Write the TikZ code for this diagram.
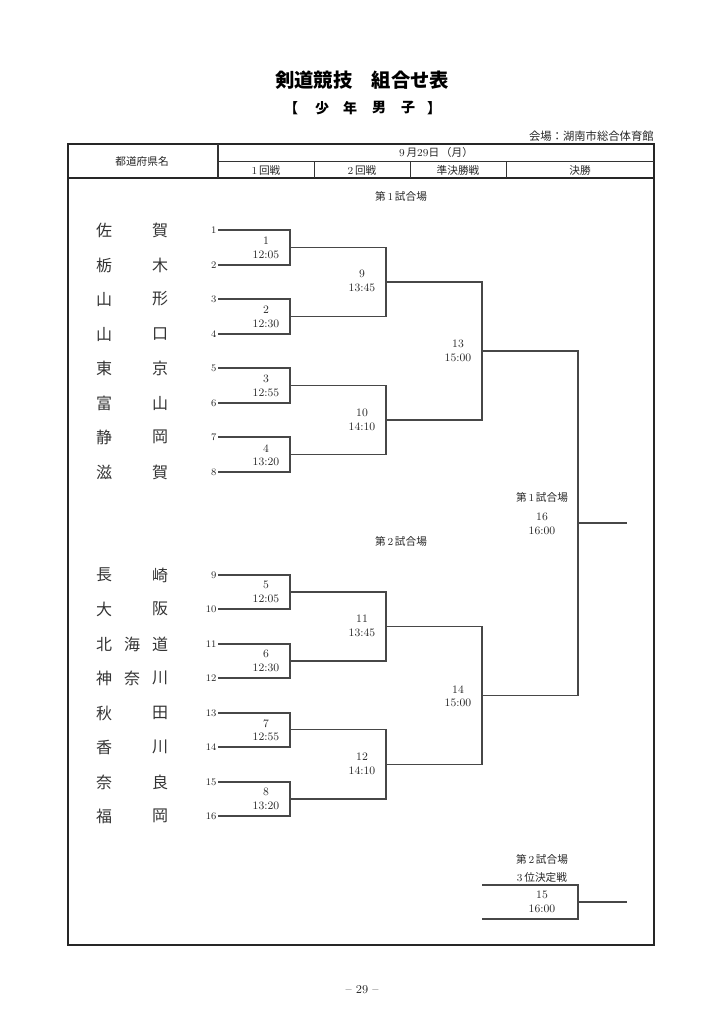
\documentclass[tikz,border=0pt]{standalone}
\usepackage{fontspec}
\newfontfamily\jp{Noto Sans CJK JP}
\begin{document}
\begin{tikzpicture}[x=0.75pt,y=-0.75pt,
  brk/.style={draw=black!72,line width=0.85pt},
  frm/.style={draw=black!85,line width=1.5pt},
  thin/.style={draw=black!80,line width=0.6pt},
  pname/.style={font=\jp\fontsize{12}{12}\selectfont,inner sep=0pt,text=black!80},
  seed/.style={font=\fontsize{7.5}{7.5}\selectfont,anchor=east,inner sep=1pt,text=black!85},
  match/.style={font=\fontsize{8.5}{10}\selectfont,align=center,inner sep=0pt,text=black!85},
  hdr/.style={font=\jp\fontsize{8}{8}\selectfont,inner sep=0pt,text=black!85},
  ttl/.style={font=\jp\bfseries\fontsize{14.5}{14.5}\selectfont,inner sep=0pt},
  sub/.style={font=\jp\bfseries\fontsize{10.5}{10.5}\selectfont,inner sep=0pt}]
\useasboundingbox (0,0) rectangle (724,1024);
% titles
\node[ttl] (title) at (362,80) {剣道競技\hspace{1em}組合せ表};
\node[sub] (b1) at (291,108) {【};
\node[sub] (b2) at (322,108) {少};
\node[sub] (b3) at (350,108) {年};
\node[sub] (b4) at (379,108) {男};
\node[sub] (b5) at (408,108) {子};
\node[sub] (b6) at (434,108) {】};
\node[hdr,anchor=east,font=\jp\fontsize{8.5}{8.5}\selectfont] (venue) at (654,136) {会場：湖南市総合体育館};
% frame and header
\draw[frm] (68,144) rectangle (654,945);
\draw[frm,line width=1.2pt] (68,178) -- (654,178);
\draw[thin,line width=0.9pt] (218,144) -- (218,178);
\draw[thin] (218,161) -- (654,161);
\draw[thin] (314,161) -- (314,178);
\draw[thin] (410,161) -- (410,178);
\draw[thin] (506,161) -- (506,178);
\node[hdr] (h0) at (142,161) {都道府県名};
\node[hdr] (hd) at (436,152.5) {{\rmfamily 9}\,月{\rmfamily 29}日\,（月）};
\node[hdr] (h1) at (266,170) {{\rmfamily 1}\,回戦};
\node[hdr] (h2) at (362,170) {{\rmfamily 2}\,回戦};
\node[hdr] (h3) at (458,170) {準決勝戦};
\node[hdr] (h4) at (580,170) {決勝};
% venue labels
\node[hdr] (v1) at (401,196) {第\,{\rmfamily 1}\,試合場};
\node[hdr] (v2) at (401,541) {第\,{\rmfamily 2}\,試合場};
% names
\node[pname] (p1a) at (104,230) {佐}; \node[pname] (p1b) at (160,230) {賀};
\node[pname] (p2a) at (104,265) {栃}; \node[pname] (p2b) at (160,265) {木};
\node[pname] (p3a) at (104,299) {山}; \node[pname] (p3b) at (160,299) {形};
\node[pname] (p4a) at (104,334) {山}; \node[pname] (p4b) at (160,334) {口};
\node[pname] (p5a) at (104,368) {東}; \node[pname] (p5b) at (160,368) {京};
\node[pname] (p6a) at (104,403) {富}; \node[pname] (p6b) at (160,403) {山};
\node[pname] (p7a) at (104,437) {静}; \node[pname] (p7b) at (160,437) {岡};
\node[pname] (p8a) at (104,472) {滋}; \node[pname] (p8b) at (160,472) {賀};
\node[pname] (p9a) at (104,575) {長}; \node[pname] (p9b) at (160,575) {崎};
\node[pname] (p10a) at (104,609) {大}; \node[pname] (p10b) at (160,609) {阪};
\node[pname] (p11a) at (104,644) {北}; \node[pname] (p11c) at (132,644) {海}; \node[pname] (p11b) at (160,644) {道};
\node[pname] (p12a) at (104,678) {神}; \node[pname] (p12c) at (132,678) {奈}; \node[pname] (p12b) at (160,678) {川};
\node[pname] (p13a) at (104,713) {秋}; \node[pname] (p13b) at (160,713) {田};
\node[pname] (p14a) at (104,747) {香}; \node[pname] (p14b) at (160,747) {川};
\node[pname] (p15a) at (104,782) {奈}; \node[pname] (p15b) at (160,782) {良};
\node[pname] (p16a) at (104,816) {福}; \node[pname] (p16b) at (160,816) {岡};
% seeds
\foreach \i/\y in {1/230,2/265,3/299,4/334,5/368,6/403,7/437,8/472,9/575,10/609,11/644,12/678,13/713,14/747,15/782,16/816}{
  \coordinate (s\i) at (218,\y);
  \coordinate (e\i) at (290,\y);
  \node[seed] (n\i) at (s\i) {\i};
}
% round columns
\coordinate (c1) at (290,0);
\coordinate (c2) at (386,0);
\coordinate (c3) at (482,0);
\coordinate (c4) at (578,0);
% first round
\foreach \m/\a/\b/\y in {1/1/2/247.5,2/3/4/316.5,3/5/6/385.5,4/7/8/454.5,5/9/10/592,6/11/12/661,7/13/14/729.5,8/15/16/799}{
  \draw[brk] (s\a) -- (e\a) -- (e\b) -- (s\b);
  \coordinate (m\m) at (290,\y);
}
\node[match] (l1) at (266,248) {1\\12:05};
\node[match] (l2) at (266,317) {2\\12:30};
\node[match] (l3) at (266,386) {3\\12:55};
\node[match] (l4) at (266,455) {4\\13:20};
\node[match] (l5) at (266,592) {5\\12:05};
\node[match] (l6) at (266,661) {6\\12:30};
\node[match] (l7) at (266,730) {7\\12:55};
\node[match] (l8) at (266,799) {8\\13:20};
% second round
\foreach \m/\a/\b/\y in {9/1/2/282,10/3/4/420,11/5/6/626.5,12/7/8/764.5}{
  \draw[brk] (m\a) -- (m\a -| c2) -- (m\b -| c2) -- (m\b);
  \coordinate (m\m) at (386,\y);
}
\node[match] (l9) at (362,281) {9\\13:45};
\node[match] (l10) at (362,420) {10\\14:10};
\node[match] (l11) at (362,626) {11\\13:45};
\node[match] (l12) at (362,764) {12\\14:10};
% semifinal
\foreach \m/\a/\b/\y in {13/9/10/351,14/11/12/695.5}{
  \draw[brk] (m\a) -- (m\a -| c3) -- (m\b -| c3) -- (m\b);
  \coordinate (m\m) at (482,\y);
}
\node[match] (l13) at (458,351) {13\\15:00};
\node[match] (l14) at (458,696) {14\\15:00};
% final
\draw[brk] (m13) -- (m13 -| c4) -- (m14 -| c4) -- (m14);
\coordinate (m16) at (578,523);
\coordinate (w16) at (627,523);
\draw[brk] (m16) -- (w16);
\node[hdr] (v3) at (542,497) {第\,{\rmfamily 1}\,試合場};
\node[match] (l16) at (542,524) {16\\16:00};
% third place
\node[hdr] (v4) at (542,859) {第\,{\rmfamily 2}\,試合場};
\node[hdr] (v5) at (542,877) {{\rmfamily 3}\,位決定戦};
\coordinate (t1) at (482,885);
\coordinate (t2) at (482,919);
\coordinate (m15) at (578,902);
\coordinate (w15) at (627,902);
\draw[brk] (t1) -- (t1 -| c4) -- (t2 -| c4) -- (t2);
\draw[brk] (m15) -- (w15);
\node[match] (l15) at (542,902) {15\\16:00};
% page number
\node[font=\fontsize{9}{9}\selectfont,text=black!85] (pg) at (362,990) {-- 29 --};
\end{tikzpicture}
\end{document}
